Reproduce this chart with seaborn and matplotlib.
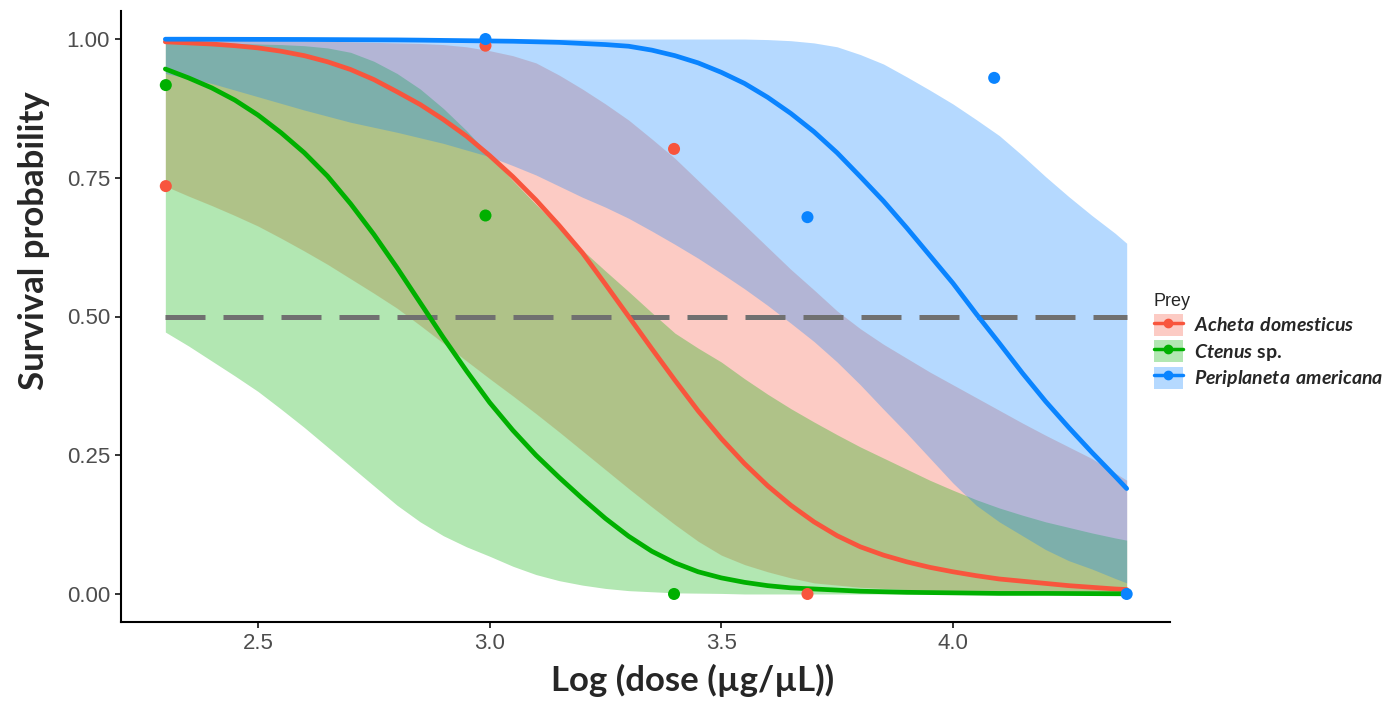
import matplotlib
matplotlib.use('Agg')
import numpy as np
import pandas as pd
import matplotlib.pyplot as plt
import seaborn as sns
from matplotlib.patches import Patch
from matplotlib.lines import Line2D

# ---- data ----
prey = ['Acheta domesticus', 'Ctenus sp.', 'Periplaneta americana']
colors = ['#F8553D', '#00B000', '#0A84FF']

log_dose = [2.30, 2.35, 2.40, 2.45, 2.50, 2.55, 2.60, 2.65, 2.70, 2.75, 2.80,
            2.85, 2.90, 2.95, 3.00, 3.05, 3.10, 3.15, 3.20, 3.25, 3.30, 3.35,
            3.40, 3.45, 3.50, 3.55, 3.60, 3.65, 3.70, 3.75, 3.80, 3.85, 3.90,
            3.95, 4.00, 4.05, 4.10, 4.15, 4.20, 4.25, 4.30, 4.35, 4.375]

acheta_fit = [0.995, 0.993, 0.991, 0.988, 0.984, 0.978, 0.970, 0.959, 0.945, 0.927, 0.905,
              0.882, 0.855, 0.825, 0.790, 0.752, 0.710, 0.664, 0.615, 0.558, 0.500, 0.442,
              0.385, 0.330, 0.280, 0.235, 0.195, 0.160, 0.130, 0.105, 0.085, 0.070, 0.058,
              0.048, 0.040, 0.033, 0.027, 0.023, 0.019, 0.015, 0.012, 0.009, 0.008]
acheta_hi = [0.998, 0.998, 0.998, 0.998, 0.997, 0.997, 0.996, 0.996, 0.995, 0.994, 0.993,
             0.992, 0.990, 0.986, 0.979, 0.970, 0.957, 0.935, 0.910, 0.883, 0.854, 0.820,
             0.785, 0.745, 0.705, 0.665, 0.625, 0.585, 0.548, 0.510, 0.478, 0.450, 0.425,
             0.400, 0.377, 0.354, 0.331, 0.308, 0.286, 0.265, 0.244, 0.218, 0.205]
acheta_lo = [0.735, 0.717, 0.700, 0.682, 0.663, 0.641, 0.618, 0.594, 0.568, 0.542, 0.515,
             0.484, 0.452, 0.420, 0.388, 0.357, 0.325, 0.292, 0.258, 0.224, 0.190, 0.157,
             0.125, 0.095, 0.070, 0.053, 0.040, 0.029, 0.020, 0.016, 0.012, 0.010, 0.008,
             0.006, 0.005, 0.004, 0.003, 0.0025, 0.002, 0.0015, 0.001, 0.001, 0.001]

ctenus_fit = [0.946, 0.930, 0.912, 0.890, 0.863, 0.831, 0.795, 0.753, 0.703, 0.648, 0.588,
              0.525, 0.462, 0.402, 0.345, 0.295, 0.250, 0.210, 0.172, 0.136, 0.104, 0.077,
              0.056, 0.040, 0.029, 0.021, 0.015, 0.011, 0.009, 0.007, 0.005, 0.004, 0.003,
              0.0025, 0.002, 0.0015, 0.001, 0.001, 0.001, 0.0008, 0.0006, 0.0004, 0.0003]
ctenus_hi = [0.993, 0.993, 0.993, 0.992, 0.991, 0.990, 0.988, 0.984, 0.976, 0.960, 0.938,
             0.910, 0.875, 0.835, 0.790, 0.745, 0.702, 0.660, 0.620, 0.582, 0.545, 0.507,
             0.470, 0.443, 0.418, 0.388, 0.360, 0.334, 0.310, 0.287, 0.265, 0.245, 0.225,
             0.205, 0.187, 0.170, 0.155, 0.142, 0.130, 0.120, 0.110, 0.101, 0.097]
ctenus_lo = [0.472, 0.447, 0.420, 0.393, 0.365, 0.333, 0.300, 0.265, 0.230, 0.195, 0.160,
             0.130, 0.105, 0.085, 0.068, 0.050, 0.035, 0.024, 0.016, 0.010, 0.006, 0.004,
             0.002, 0.0015, 0.001, 0.0, 0.0, 0.0, 0.0, 0.0, 0.0, 0.0, 0.0,
             0.0, 0.0, 0.0, 0.0, 0.0, 0.0, 0.0, 0.0, 0.0, 0.0]

peri_fit = [0.9997, 0.9997, 0.9996, 0.9995, 0.9994, 0.9993, 0.9992, 0.999, 0.9988, 0.9986, 0.9984,
            0.998, 0.9975, 0.997, 0.9965, 0.996, 0.995, 0.994, 0.992, 0.990, 0.987, 0.980,
            0.970, 0.957, 0.940, 0.920, 0.895, 0.866, 0.833, 0.795, 0.752, 0.708, 0.660,
            0.610, 0.560, 0.505, 0.452, 0.398, 0.347, 0.300, 0.255, 0.212, 0.190]
peri_hi = [1.0, 1.0, 1.0, 1.0, 1.0, 1.0, 1.0, 1.0, 1.0, 1.0, 1.0,
           1.0, 1.0, 1.0, 1.0, 1.0, 1.0, 1.0, 1.0, 1.0, 1.0, 1.0,
           1.0, 1.0, 1.0, 1.0, 0.999, 0.997, 0.993, 0.986, 0.972, 0.955, 0.932,
           0.908, 0.883, 0.855, 0.826, 0.790, 0.752, 0.716, 0.682, 0.650, 0.632]
peri_lo = [0.938, 0.929, 0.920, 0.908, 0.896, 0.884, 0.872, 0.861, 0.850, 0.841, 0.832,
           0.822, 0.812, 0.800, 0.788, 0.772, 0.755, 0.735, 0.715, 0.697, 0.677, 0.654,
           0.630, 0.605, 0.578, 0.550, 0.520, 0.488, 0.455, 0.418, 0.377, 0.333, 0.290,
           0.245, 0.200, 0.160, 0.130, 0.105, 0.080, 0.060, 0.045, 0.028, 0.020]

acheta_obs_x = [2.301, 2.991, 3.398, 3.686]
acheta_obs_y = [0.735, 0.988, 0.802, 0.0]
ctenus_obs_x = [2.301, 2.991, 3.398]
ctenus_obs_y = [0.917, 0.682, 0.0]
peri_obs_x = [2.991, 3.686, 4.089, 4.375]
peri_obs_y = [1.0, 0.679, 0.930, 0.0]

# ---- tidy frames ----
fits = [(acheta_fit, acheta_lo, acheta_hi), (ctenus_fit, ctenus_lo, ctenus_hi),
        (peri_fit, peri_lo, peri_hi)]
fit_df = pd.concat([pd.DataFrame({'log_dose': log_dose, 'fit': f, 'lo': lo, 'hi': hi, 'prey': p})
                    for p, (f, lo, hi) in zip(prey, fits)], ignore_index=True)
obs = [(acheta_obs_x, acheta_obs_y), (ctenus_obs_x, ctenus_obs_y), (peri_obs_x, peri_obs_y)]
obs_df = pd.concat([pd.DataFrame({'log_dose': x, 'surv': y, 'prey': p})
                    for p, (x, y) in zip(prey, obs)], ignore_index=True)

sns.set_style('ticks')
plt.rcParams['font.family'] = ['Liberation Sans', 'DejaVu Sans']
plt.rcParams['mathtext.fontset'] = 'custom'
plt.rcParams['mathtext.bfit'] = 'Lato:italic:bold'
plt.rcParams['mathtext.rm'] = 'Lato:bold'

fig = plt.figure(figsize=(13.93, 7.05), dpi=100)
ax = fig.add_axes([121 / 1393, 1 - 622 / 705, 1049 / 1393, 611 / 705])

# confidence ribbons
for p, c in zip(prey, colors):
    d = fit_df[fit_df['prey'] == p]
    ax.fill_between(d['log_dose'], d['lo'], d['hi'], color=c, alpha=0.3, lw=0, zorder=1)

# LD50 reference line
ax.plot([log_dose[0], log_dose[-1]], [0.5, 0.5], color='#707070', lw=3.6,
        dashes=(8, 3.6), zorder=2)

sns.lineplot(data=fit_df, x='log_dose', y='fit', hue='prey', palette=colors,
             lw=3.4, legend=False, ax=ax, zorder=3)
sns.scatterplot(data=obs_df, x='log_dose', y='surv', hue='prey', palette=colors,
                s=75, edgecolor='none', legend=False, ax=ax, zorder=4)

ax.set_xlim(2.2043, 4.4685)
ax.set_ylim(-0.0505, 1.0505)
ax.set_xticks([2.5, 3.0, 3.5, 4.0])
ax.set_yticks([0, 0.25, 0.5, 0.75, 1.0])
ax.set_yticklabels(['0.00', '0.25', '0.50', '0.75', '1.00'])
sns.despine(ax=ax)
for s in ['left', 'bottom']:
    ax.spines[s].set_linewidth(1.5)
    ax.spines[s].set_color('black')
ax.tick_params(length=4, width=1.4, color='#333333', labelcolor='#4D4D4D',
               labelsize=16, pad=4)

ax.set_xlabel('Log (dose (µg/µL))', family='Lato', weight='bold', fontsize=25)
ax.set_ylabel('Survival probability', family='Lato', weight='bold', fontsize=25)
ax.xaxis.set_label_coords(0.545, -0.068)
ax.yaxis.set_label_coords(-0.068, 0.624)

handles = [(Patch(facecolor=c, alpha=0.3, edgecolor='none'),
            Line2D([0], [0], color=c, lw=2.5, marker='o', ms=6)) for c in colors]
labels = [r'$\mathbfit{Acheta\ domesticus}$', r'$\mathbfit{Ctenus}$ sp.',
          r'$\mathbfit{Periplaneta\ americana}$']
leg = fig.legend(handles, labels, title='Prey', loc='upper left',
                 bbox_to_anchor=(1144 / 1393, 1 - 283 / 705), frameon=False,
                 prop={'family': 'Lato', 'weight': 'bold', 'size': 14},
                 title_fontsize=13, handlelength=1.5, handleheight=1.35,
                 labelspacing=0.22, handletextpad=0.55, borderpad=0, alignment='left')

fig.savefig('out.png', dpi=100)
